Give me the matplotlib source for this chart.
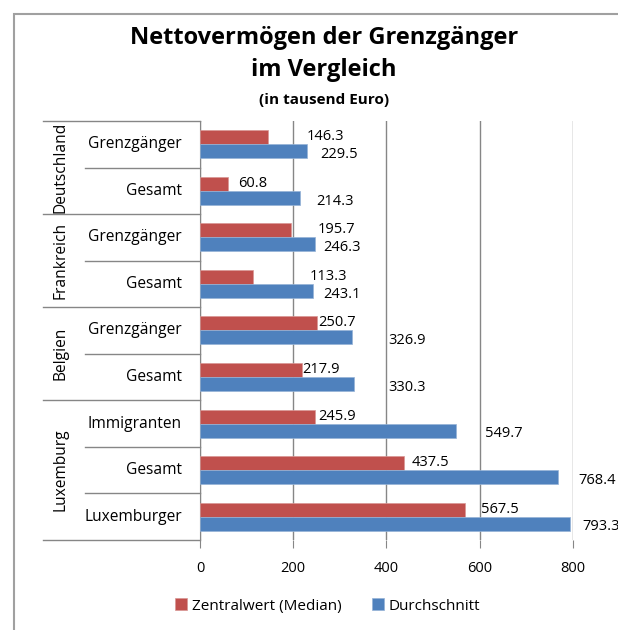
import numpy as np
import matplotlib.pyplot as plt
from matplotlib.patches import Rectangle
from matplotlib.transforms import blended_transform_factory

plt.rcParams['font.family'] = ['Open Sans', 'DejaVu Sans']

# data (in tausend Euro), top to bottom
groups = ["Deutschland", "Frankreich", "Belgien", "Luxemburg"]
group_sizes = [2, 2, 2, 3]
categories = ["Grenzgänger", "Gesamt", "Grenzgänger", "Gesamt",
              "Grenzgänger", "Gesamt", "Immigranten", "Gesamt", "Luxemburger"]
median = [146.3, 60.8, 195.7, 113.3, 250.7, 217.9, 245.9, 437.5, 567.5]
mean = [229.5, 214.3, 246.3, 243.1, 326.9, 330.3, 549.7, 768.4, 793.3]

# label offsets (data units) to mimic the excel placement
median_off = [83, 21, 57, 123, 2, 1, 7, 17, 35]
mean_off = [28, 35, 18, 21, 76, 73, 61, 43, 27]

red = "#C0504D"
blue = "#4F81BD"
grid = "#868686"

fig = plt.figure(figsize=(6.18, 6.30), dpi=100)
ax = fig.add_axes([0.3236, 0.143, 0.6036, 0.665])

y = np.arange(len(categories))
h = 0.30
ax.barh(y - h / 2, median, height=h, color=red, edgecolor="#D99694", linewidth=0.5,
        label="Zentralwert (Median)", zorder=3)
ax.barh(y + h / 2, mean, height=h, color=blue, edgecolor="#95B3D7", linewidth=0.5,
        label="Durchschnitt", zorder=3)

for i in range(len(categories)):
    ax.text(median[i] + median_off[i], y[i] - 0.16, "%.1f" % median[i],
            va="center", ha="left", fontsize=10.5, clip_on=False)
    ax.text(mean[i] + mean_off[i], y[i] + 0.22, "%.1f" % mean[i],
            va="center", ha="left", fontsize=10.5, clip_on=False)

ax.set_xlim(0, 800)
ax.set_ylim(len(categories) - 0.5, -0.5)
ax.set_xticks([0, 200, 400, 600, 800])
ax.tick_params(axis="x", length=6, color=grid, labelsize=10.5, pad=9)
ax.set_yticks([])
ax.xaxis.grid(True, color=grid, linewidth=1)
ax.set_axisbelow(True)
for s in ["top", "right", "bottom"]:
    ax.spines[s].set_visible(False)
ax.spines["left"].set_color(grid)

# category axis with group labels
tr = blended_transform_factory(ax.transAxes, ax.transData)
for i, c in enumerate(categories):
    ax.text(-0.048, y[i], c, transform=tr, ha="right", va="center", fontsize=11.2)

bounds = [-0.5]
for n in group_sizes:
    bounds.append(bounds[-1] + n)
for b in bounds:
    ax.plot([-0.421, 0], [b, b], transform=tr, color=grid, lw=1, clip_on=False)
for gi in range(len(groups)):
    for k in range(1, group_sizes[gi]):
        b = bounds[gi] + k
        ax.plot([-0.308, 0], [b, b], transform=tr, color=grid, lw=1, clip_on=False)
    ax.text(-0.375, (bounds[gi] + bounds[gi + 1]) / 2, groups[gi], transform=tr,
            rotation=90, ha="center", va="center", fontsize=11.2)

# titles
fig.text(0.524, 0.940, "Nettovermögen der Grenzgänger", ha="center", va="center",
         fontsize=17, fontweight="bold")
fig.text(0.524, 0.889, "im Vergleich", ha="center", va="center",
         fontsize=17, fontweight="bold")
fig.text(0.524, 0.842, "(in tausend Euro)", ha="center", va="center",
         fontsize=11, fontweight="bold")

# chart border
fig.patches.append(Rectangle((14 / 618, -0.1), 1.2, 1.1 - 14 / 630,
                             transform=fig.transFigure, fill=False,
                             edgecolor="#A0A0A0", lw=1.5))

fig.legend(loc="center", bbox_to_anchor=(0.53, 0.038), ncol=2, frameon=False,
           fontsize=11, handlelength=0.8, handleheight=0.8, handletextpad=0.3,
           columnspacing=2.0)

fig.savefig("out.png", dpi=100)
